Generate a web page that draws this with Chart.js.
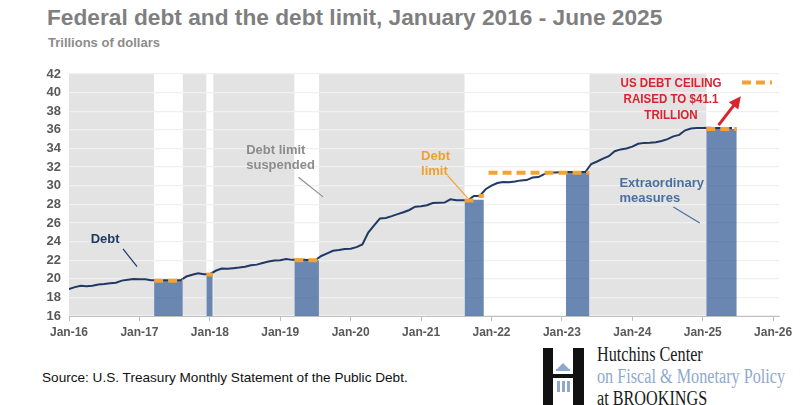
<!DOCTYPE html>
<html>
<head>
<meta charset="utf-8">
<script src="https://cdn.jsdelivr.net/npm/chart.js@4.4.1/dist/chart.umd.min.js"></script>
<style>
  body { margin: 0; width: 800px; height: 405px; background: #fff; position: relative; overflow: hidden; font-family: "Liberation Sans", Arial, sans-serif; }
  #chart { position: absolute; left: 0; top: 0; }
  .txt { position: absolute; white-space: nowrap; }
  .logo { position: absolute; white-space: nowrap; font-family: "Liberation Serif", "Times New Roman", serif; font-size: 20px; transform: scaleX(0.81); transform-origin: left center; line-height: 21px; }
</style>
</head>
<body>
<div class="txt" style="left:47px;top:4px;font-size:22.7px;font-weight:bold;color:#7f7f7f">Federal debt and the debt limit, January 2016 - June 2025</div>
<div class="txt" style="left:48px;top:35px;font-size:13px;font-weight:bold;color:#8c8c8c">Trillions of dollars</div>
<div class="txt" style="left:42px;top:370px;font-size:13.6px;color:#111">Source: U.S. Treasury Monthly Statement of the Public Debt.</div>

<svg style="position:absolute;left:543px;top:348px" width="44" height="57">
  <rect x="0" y="0" width="10" height="57" fill="#111"/>
  <rect x="30" y="0" width="11" height="57" fill="#111"/>
  <rect x="10" y="26" width="20" height="4" fill="#111"/>
  <polygon points="13,22 20,15 27,22" fill="#8fa9cc"/>
  <rect x="13" y="21" width="14" height="2" fill="#8fa9cc"/>
  <rect x="14" y="33" width="3" height="11" fill="#8fa9cc"/>
  <rect x="19" y="33" width="3" height="11" fill="#8fa9cc"/>
  <rect x="24" y="33" width="3" height="11" fill="#8fa9cc"/>
</svg>
<div class="logo" style="left:597px;top:344px;color:#1a1a1a">Hutchins Center</div>
<div class="logo" style="left:597px;top:366px;color:#8fa9cc">on Fiscal &amp; Monetary Policy</div>
<div class="logo" style="left:597px;top:388px;color:#1a1a1a">at BROOKINGS</div>

<canvas id="chart" width="800" height="405"></canvas>

<script>
// x values are months since Jan 2016
const debt = [
  18.9, 19.1, 19.26, 19.19, 19.26, 19.38, 19.43, 19.51, 19.57, 19.8, 19.9, 19.98,
  19.94, 19.96, 19.85, 19.85, 19.84, 19.84, 19.84, 19.84, 20.24, 20.44, 20.59, 20.49,
  20.49, 20.86, 21.09, 21.07, 21.14, 21.2, 21.3, 21.45, 21.52, 21.7, 21.85, 21.97,
  21.98, 22.12, 22.03, 22.03, 22.03, 22.02, 22.02, 22.45, 22.72, 23.0, 23.08, 23.2,
  23.22, 23.4, 23.69, 24.97, 25.74, 26.48, 26.53, 26.73, 26.95, 27.15, 27.39, 27.75,
  27.78, 27.9, 28.13, 28.17, 28.19, 28.53, 28.43, 28.43, 28.43, 28.9, 28.9, 29.62,
  30.0, 30.29, 30.4, 30.37, 30.45, 30.57, 30.6, 30.87, 30.93, 31.24, 31.41, 31.42,
  31.46, 31.46, 31.46, 31.46, 31.46, 32.33, 32.6, 32.91, 33.17, 33.7, 33.9, 34.0,
  34.2, 34.5, 34.6, 34.62, 34.67, 34.8, 35.0, 35.3, 35.46, 35.95, 36.14, 36.2,
  36.21, 36.22, 36.21, 36.21, 36.21, 36.21
];

// debt limit suspended: [start, end]
const suspended = [[0, 14.5], [19.4, 23.4], [24.6, 38.4], [42.6, 67.4], [88.7, 108.6]];

// extraordinary measures: [start, end, limit]
const measures = [[14.5, 19.4, 19.8], [23.4, 24.5, 20.45], [38.4, 42.6, 22.0], [67.4, 70.7, 28.5], [84.7, 88.7, 31.4], [108.6, 113.8, 36.1]];

// debt limit: [start, end, limit]
const limits = [[14.5, 19.4, 19.8], [23.4, 24.5, 20.45], [38.4, 42.6, 22.0], [67.4, 69.8, 28.4], [69.8, 70.7, 28.9], [71.5, 88.7, 31.4], [108.6, 113.8, 36.1], [114.7, 119.8, 41.1]];

const yearTicks = [0, 12, 24, 36, 48, 60, 72, 84, 96, 108, 120];
const yearLabels = ['Jan-16', 'Jan-17', 'Jan-18', 'Jan-19', 'Jan-20', 'Jan-21', 'Jan-22', 'Jan-23', 'Jan-24', 'Jan-25', 'Jan-26'];

// notes: text lines at [x, y], pointer line [x1, y1, x2, y2]
const notes = [
  { lines: ['Debt'], at: [3.7, 24.2], ptr: [9.2, 23.2, 11.6, 21.3], color: '#1f3864' },
  { lines: ['Debt limit', 'suspended'], at: [30.2, 33.8], ptr: [39.1, 30.9, 43.3, 28.8], color: '#8c8c8c' },
  { lines: ['Debt', 'limit'], at: [60.0, 33.1], ptr: [64.5, 31.1, 67.9, 28.7], color: '#f0a030' },
  { lines: ['Extraordinary', 'measures'], at: [93.8, 30.2], ptr: [103.0, 27.7, 107.5, 26.0], color: '#4a6fa0' }
];
const ceilingNote = { lines: ['US DEBT CEILING', 'RAISED TO $41.1', 'TRILLION'], at: [102.6, 41.0], arrow: [110.7, 36.5, 114.5, 39.6] };

const dsets = [];
limits.forEach(([s, e, v]) => {
  dsets.push({ data: [{ x: s, y: v }, { x: e, y: v }], borderColor: '#f4a232', borderWidth: 4, borderDash: [9, 5], borderCapStyle: 'butt', pointRadius: 0, fill: false, order: 0 });
});
dsets.push({ data: debt.map((v, i) => ({ x: i, y: v })), borderColor: '#1f3864', borderWidth: 2, pointRadius: 0, tension: 0, fill: false, order: 1 });
measures.forEach(([s, e, v]) => {
  dsets.push({ data: [{ x: s, y: v }, { x: e, y: v }], borderWidth: 0, pointRadius: 0, fill: 'start', backgroundColor: 'rgba(55,95,150,0.75)', order: 2 });
});

const shading = {
  id: 'shading',
  beforeDraw(chart) {
    const { ctx, chartArea: a, scales: { x } } = chart;
    ctx.save();
    ctx.fillStyle = '#e3e3e3';
    suspended.forEach(([s, e]) => {
      const x1 = x.getPixelForValue(s), x2 = Math.min(x.getPixelForValue(e), a.right);
      ctx.fillRect(x1, a.top, x2 - x1, a.bottom - a.top);
    });
    ctx.restore();
  }
};

const labels = {
  id: 'labels',
  afterDatasetsDraw(chart) {
    const { ctx, scales: { x, y } } = chart;
    ctx.save();
    ctx.font = 'bold 13px "Liberation Sans", Arial, sans-serif';
    ctx.textBaseline = 'middle';
    ctx.textAlign = 'left';
    notes.forEach(n => {
      ctx.fillStyle = n.color;
      n.lines.forEach((t, i) => ctx.fillText(t, x.getPixelForValue(n.at[0]), y.getPixelForValue(n.at[1]) + i * 15));
      ctx.strokeStyle = n.color;
      ctx.lineWidth = 1.2;
      ctx.beginPath();
      ctx.moveTo(x.getPixelForValue(n.ptr[0]), y.getPixelForValue(n.ptr[1]));
      ctx.lineTo(x.getPixelForValue(n.ptr[2]), y.getPixelForValue(n.ptr[3]));
      ctx.stroke();
    });

    // condensed red caption
    ctx.fillStyle = '#d9232e';
    ctx.textAlign = 'center';
    ctx.font = 'bold 13px "Liberation Sans", Arial, sans-serif';
    const cx = x.getPixelForValue(ceilingNote.at[0]), cy = y.getPixelForValue(ceilingNote.at[1]);
    ctx.save();
    ctx.translate(cx, cy);
    ctx.scale(0.89, 1);
    ceilingNote.lines.forEach((t, i) => ctx.fillText(t, 0, i * 16));
    ctx.restore();

    const [a1, b1, a2, b2] = ceilingNote.arrow;
    const px1 = x.getPixelForValue(a1), py1 = y.getPixelForValue(b1);
    const px2 = x.getPixelForValue(a2), py2 = y.getPixelForValue(b2);
    const ang = Math.atan2(py2 - py1, px2 - px1);
    ctx.strokeStyle = '#d9232e';
    ctx.lineWidth = 3;
    ctx.beginPath();
    ctx.moveTo(px1, py1);
    ctx.lineTo(px2 - 8 * Math.cos(ang), py2 - 8 * Math.sin(ang));
    ctx.stroke();
    ctx.beginPath();
    ctx.moveTo(px2, py2);
    ctx.lineTo(px2 - 12 * Math.cos(ang) + 6 * Math.sin(ang), py2 - 12 * Math.sin(ang) - 6 * Math.cos(ang));
    ctx.lineTo(px2 - 12 * Math.cos(ang) - 6 * Math.sin(ang), py2 - 12 * Math.sin(ang) + 6 * Math.cos(ang));
    ctx.closePath();
    ctx.fill();
    ctx.restore();
  }
};

new Chart(document.getElementById('chart'), {
  type: 'line',
  data: { datasets: dsets },
  plugins: [shading, labels],
  options: {
    responsive: false,
    animation: false,
    layout: { padding: { left: 29, right: 21, top: 74, bottom: 64 } },
    plugins: { legend: { display: false }, tooltip: { enabled: false } },
    scales: {
      x: {
        type: 'linear',
        min: 0,
        max: 121,
        afterBuildTicks: scale => { scale.ticks = yearTicks.map(v => ({ value: v })); },
        afterFit: scale => { scale.height = 25; },
        grid: { drawOnChartArea: false, drawTicks: true, tickLength: 5, color: '#bfbfbf' },
        border: { color: '#bfbfbf' },
        ticks: {
          callback: v => yearLabels[yearTicks.indexOf(v)],
          font: { family: '"Liberation Sans", Arial, sans-serif', size: 12, weight: 'bold' },
          color: '#595959',
          maxRotation: 0,
          padding: 4
        }
      },
      y: {
        min: 16,
        max: 42,
        afterFit: scale => { scale.width = 40; },
        grid: { color: '#f0f0f0', lineWidth: 1.2, drawTicks: false },
        border: { display: false },
        ticks: {
          stepSize: 2,
          font: { family: '"Liberation Sans", Arial, sans-serif', size: 13, weight: 'bold' },
          color: '#595959',
          padding: 8
        }
      }
    }
  }
});
</script>
</body>
</html>
